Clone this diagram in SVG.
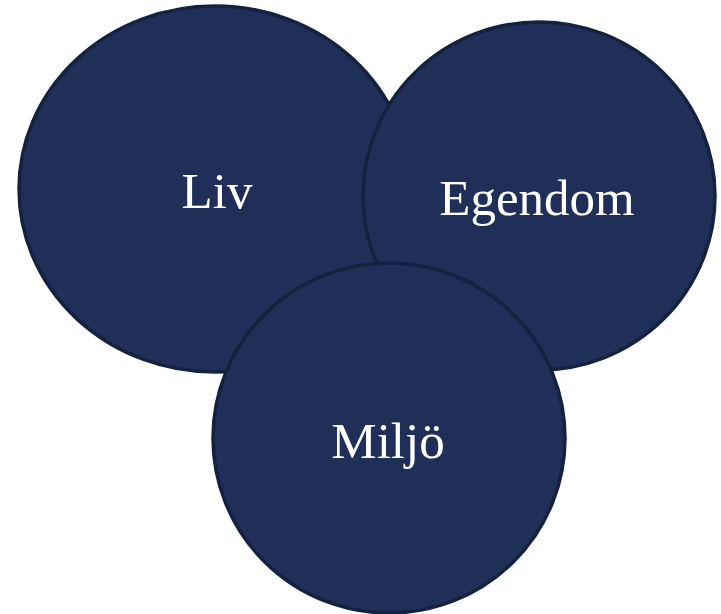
<svg xmlns="http://www.w3.org/2000/svg" width="721" height="614" viewBox="0 0 721 614">
<style>
.c{fill:#1f2f57;stroke:#14213f;stroke-width:3.5}
.t{font-family:"Liberation Serif","DejaVu Serif",serif;font-size:51px;fill:#ffffff;text-anchor:middle}
</style>
<rect width="721" height="614" fill="#ffffff"/>
<g id="connectors"/>
<g id="liv">
<ellipse class="c" cx="215" cy="189" rx="196" ry="183"/>
<text class="t" x="217" y="208">Liv</text>
</g>
<g id="egendom">
<ellipse class="c" cx="539" cy="196" rx="176" ry="174"/>
<text class="t" x="537" y="215">Egendom</text>
</g>
<g id="miljo">
<ellipse class="c" cx="389" cy="438" rx="176" ry="175"/>
<text class="t" x="388" y="458">Miljö</text>
</g>
</svg>
